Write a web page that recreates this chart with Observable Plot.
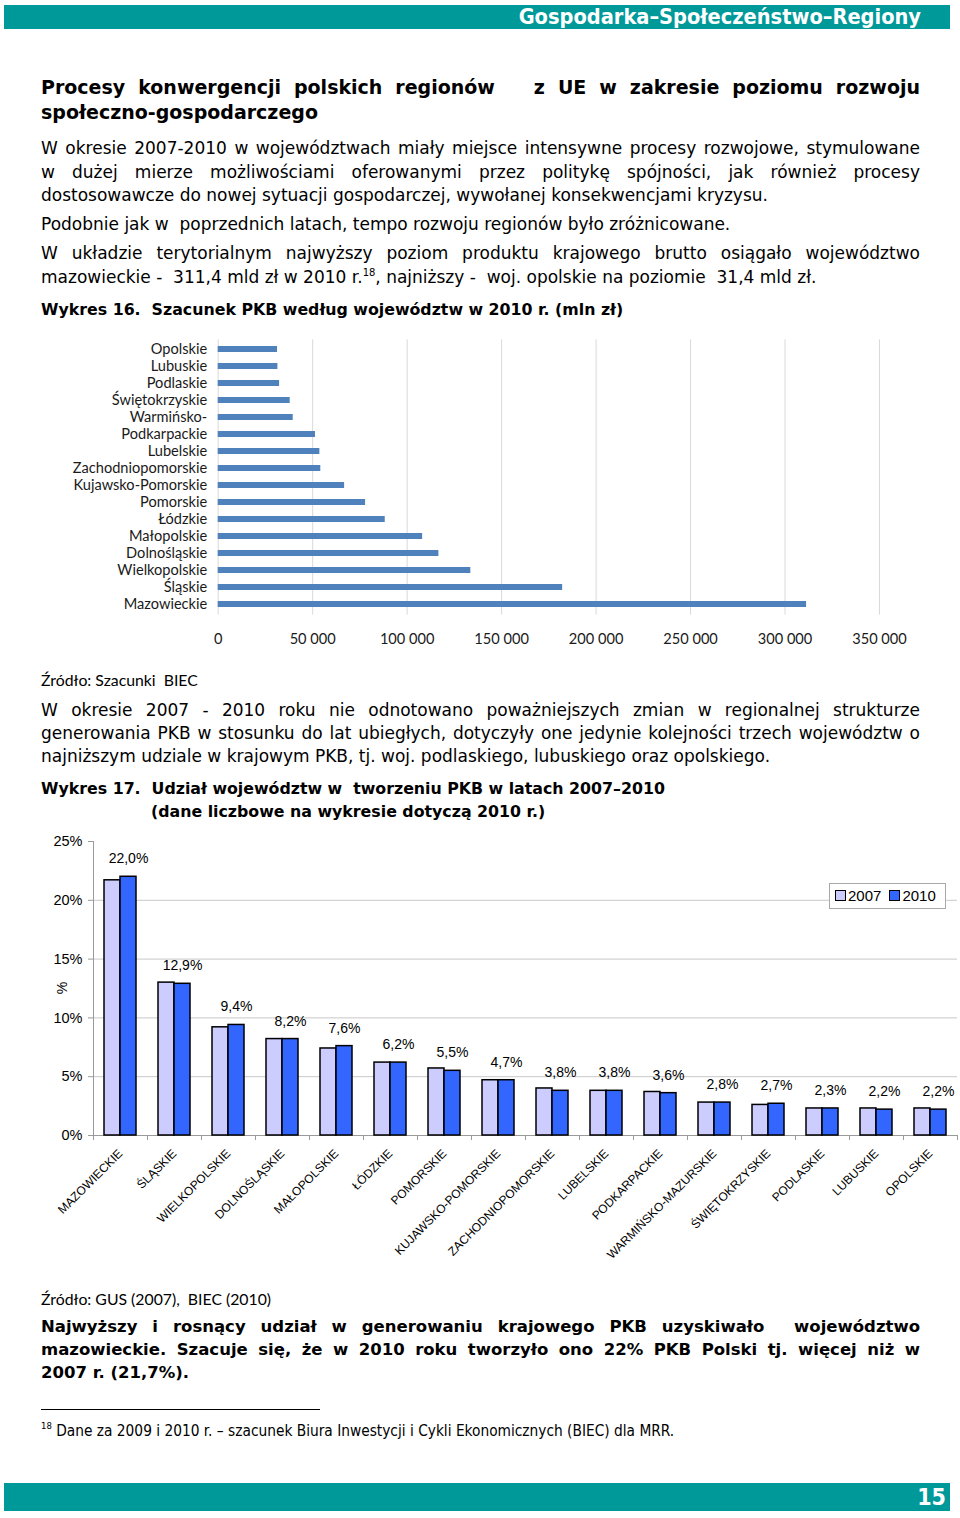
<!DOCTYPE html>
<html><head><meta charset="utf-8">
<script src="https://cdn.jsdelivr.net/npm/d3@7"></script>
<script src="https://cdn.jsdelivr.net/npm/@observablehq/plot@0.6"></script>
<style>
html,body{margin:0;padding:0;background:#fff;}
#page{position:relative;width:960px;height:1518px;overflow:hidden;font-family:"DejaVu Sans",sans-serif;color:#000;}
.ln{position:absolute;left:41px;width:879px;white-space:nowrap;font-size:17px;line-height:22px;height:22px;}
.j{text-align:justify;text-align-last:justify;white-space:normal;}
.b{font-weight:bold;font-size:16.5px;}
.w{font-weight:bold;font-size:15.8px;}
.t{font-weight:bold;font-size:19px;line-height:24px;height:24px;}
.src{font-family:Lato,sans-serif;font-size:15.8px;}
.band{position:absolute;left:4px;width:946px;background:#00999a;color:#fff;font-family:"DejaVu Sans Condensed","DejaVu Sans",sans-serif;font-weight:bold;text-align:right;box-sizing:border-box;}
sup{font-size:10px;line-height:0;vertical-align:7px;}
.abs{position:absolute;left:0;}
#legend{position:absolute;left:829px;top:883px;width:117px;height:26px;box-sizing:border-box;border:1px solid #a8a8a8;background:#fff;font-family:"Liberation Sans",Arial,sans-serif;font-size:15px;line-height:24px;white-space:nowrap;}
#legend .sw{display:inline-block;width:9px;height:9px;border:1.5px solid #000;margin:0 2px 0 5px;vertical-align:-0px;}
</style></head>
<body><div id="page">
<div class="band" style="top:5px;height:24px;font-size:21.6px;line-height:24px;padding-right:29px;">Gospodarka–Społeczeństwo–Regiony</div>

<div class="ln t j" style="top:75px;">Procesy konwergencji polskich regionów &nbsp; z UE w zakresie poziomu rozwoju</div>
<div class="ln t" style="top:100px;">społeczno-gospodarczego</div>

<div class="ln j" style="top:137px;">W okresie 2007-2010 w województwach miały miejsce intensywne procesy rozwojowe, stymulowane</div>
<div class="ln j" style="top:161px;">w dużej mierze możliwościami oferowanymi przez politykę spójności, jak również procesy</div>
<div class="ln" style="top:184px;">dostosowawcze do nowej sytuacji gospodarczej, wywołanej konsekwencjami kryzysu.</div>
<div class="ln" style="top:213px;">Podobnie jak w &nbsp;poprzednich latach, tempo rozwoju regionów było zróżnicowane.</div>
<div class="ln j" style="top:242px;">W układzie terytorialnym najwyższy poziom produktu krajowego brutto osiągało województwo</div>
<div class="ln" style="top:266px;">mazowieckie - &nbsp;311,4 mld zł w 2010 r.<sup>18</sup>, najniższy - &nbsp;woj. opolskie na poziomie &nbsp;31,4 mld zł.</div>
<div class="ln w" style="top:299px;">Wykres 16. &nbsp;Szacunek PKB według województw w 2010 r. (mln zł)</div>

<div id="chart1" class="abs" style="top:335px;"></div>

<div class="ln src" style="top:669px;">Źródło: Szacunki &nbsp;BIEC</div>
<div class="ln j" style="top:699px;">W okresie 2007 - 2010 roku nie odnotowano poważniejszych zmian w regionalnej strukturze</div>
<div class="ln j" style="top:722px;">generowania PKB w stosunku do lat ubiegłych, dotyczyły one jedynie kolejności trzech województw o</div>
<div class="ln" style="top:745px;">najniższym udziale w krajowym PKB, tj. woj. podlaskiego, lubuskiego oraz opolskiego.</div>
<div class="ln w" style="top:778px;">Wykres 17. &nbsp;Udział województw w &nbsp;tworzeniu PKB w latach 2007–2010</div>
<div class="ln w" style="top:801px;left:151px;width:700px;">(dane liczbowe na wykresie dotyczą 2010 r.)</div>

<div id="chart2grid" class="abs" style="top:830px;"></div>
<div id="chart2" class="abs" style="top:830px;"></div>
<div style="position:absolute;left:52px;top:978px;width:20px;height:20px;line-height:20px;text-align:center;transform:rotate(-90deg);font-family:'Liberation Sans',Arial,sans-serif;font-size:14px;">%</div>
<div id="legend"><span class="sw" style="background:#ccccff"></span>2007<span class="sw" style="background:#3366ff;margin-left:8px"></span>2010</div>

<div class="ln src" style="top:1288px;">Źródło: GUS (2007), &nbsp;BIEC (2010)</div>
<div class="ln b j" style="top:1316px;">Najwyższy i rosnący udział w generowaniu krajowego PKB uzyskiwało &nbsp;województwo</div>
<div class="ln b j" style="top:1339px;">mazowieckie. Szacuje się, że w 2010 roku tworzyło ono 22% PKB Polski tj. więcej niż w</div>
<div class="ln b" style="top:1362px;">2007 r. (21,7%).</div>

<div style="position:absolute;left:41px;top:1409px;width:279px;height:1px;background:#000;"></div>
<div class="ln" style="top:1420px;font-family:'DejaVu Sans Condensed','DejaVu Sans',sans-serif;font-size:15.3px;"><sup style="font-size:9.5px">18</sup> Dane za 2009 i 2010 r. – szacunek Biura Inwestycji i Cykli Ekonomicznych (BIEC) dla MRR.</div>

<div class="band" style="top:1483px;height:28px;font-size:23px;line-height:28px;padding-right:4px;">15</div>
</div>
<script>
// ---- Wykres 16 data ----
const regions1 = ["Opolskie","Lubuskie","Podlaskie","Świętokrzyskie","Warmińsko-","Podkarpackie","Lubelskie","Zachodniopomorskie","Kujawsko-Pomorskie","Pomorskie","Łódzkie","Małopolskie","Dolnośląskie","Wielkopolskie","Śląskie","Mazowieckie"];
const gdp2010 = [31400, 31600, 32500, 38100, 39700, 51500, 53800, 54300, 66900, 78000, 88400, 108200, 116800, 133700, 182300, 311400];
const gdpTicks = [0, 50000, 100000, 150000, 200000, 250000, 300000, 350000];

// ---- Wykres 17 data ----
const regions2 = ["MAZOWIECKIE","ŚLĄSKIE","WIELKOPOLSKIE","DOLNOŚLĄSKIE","MAŁOPOLSKIE","ŁÓDZKIE","POMORSKIE","KUJAWSKO-POMORSKIE","ZACHODNIOPOMORSKIE","LUBELSKIE","PODKARPACKIE","WARMIŃSKO-MAZURSKIE","ŚWIĘTOKRZYSKIE","PODLASKIE","LUBUSKIE","OPOLSKIE"];
const share2007 = [21.7, 13.0, 9.2, 8.2, 7.4, 6.2, 5.7, 4.7, 4.0, 3.8, 3.7, 2.8, 2.6, 2.3, 2.3, 2.3];
const share2010 = [22.0, 12.9, 9.4, 8.2, 7.6, 6.2, 5.5, 4.7, 3.8, 3.8, 3.6, 2.8, 2.7, 2.3, 2.2, 2.2];
const years = ["2007", "2010"];
const yearColors = ["#ccccff", "#3366ff"];
const shareTicks = [0, 5, 10, 15, 20, 25];
const shareGrid = [5, 10, 15, 20];

// ---- chart 1 ----
const data1 = regions1.map((r, i) => ({region: r, value: gdp2010[i]}));
const chart1 = Plot.plot({
  width: 960, height: 320,
  marginLeft: 217.7, marginRight: 81, marginTop: 4.4, marginBottom: 40.4,
  style: {fontFamily: "Lato, sans-serif", fontSize: "14.6px", color: "#1a1a1a", background: "transparent"},
  x: {domain: [0, 350000], ticks: gdpTicks, tickFormat: d => d3.format(",")(d).replace(/,/g, " "), tickSize: 0, tickPadding: 19, label: null},
  y: {domain: regions1, paddingInner: 0.62, paddingOuter: 0.31, tickSize: 0, tickPadding: 11, label: null},
  marks: [
    Plot.ruleX(gdpTicks, {stroke: "#d9d9d9", strokeWidth: 1}),
    Plot.barX(data1, {x: "value", y: "region", fill: "#4f81bd"})
  ]
});
document.getElementById("chart1").appendChild(chart1);

// ---- chart 2 ----
const rows2 = regions2.flatMap((r, i) => [
  {region: r, year: years[0], v: share2007[i]},
  {region: r, year: years[1], v: share2010[i]}
]);
const labels2 = regions2.map((r, i) => ({region: r, year: years[1], v: share2010[i]}));
const fmtPct = v => v.toFixed(1).replace(".", ",") + "%";

const common2 = {width: 960, height: 440, marginLeft: 93, marginRight: 3, marginTop: 11, marginBottom: 135};

const chart2grid = Plot.plot({
  ...common2,
  style: {fontFamily: "'Liberation Sans', Arial, sans-serif", fontSize: "14.5px", color: "#000", background: "transparent"},
  x: {domain: [0, regions2.length], ticks: d3.range(regions2.length + 1), tickFormat: () => "", tickSize: 5, label: null},
  y: {domain: [0, 25], ticks: shareTicks, tickFormat: d => d + "%", tickSize: 5, tickPadding: 6, label: null},
  marks: [
    Plot.ruleY(shareGrid, {stroke: "#c8c8c8"}),
    Plot.ruleY([0], {stroke: "#9a9a9a"}),
    Plot.ruleX([0], {stroke: "#9a9a9a"})
  ]
});
chart2grid.querySelectorAll('[aria-label^="x-axis"] line, [aria-label^="x-axis"] path, [aria-label^="y-axis"] line, [aria-label^="y-axis"] path')
  .forEach(el => el.setAttribute("stroke", "#9a9a9a"));
document.getElementById("chart2grid").appendChild(chart2grid);

const chart2 = Plot.plot({
  ...common2,
  style: {fontFamily: "'Liberation Sans', Arial, sans-serif", fontSize: "12px", color: "#000", background: "transparent"},
  fx: {domain: regions2, paddingInner: 0.4, paddingOuter: 0.2, axis: "bottom", tickRotate: -45, tickSize: 0, tickPadding: 16, label: null},
  x: {domain: years, padding: 0, axis: null},
  y: {domain: [0, 25], axis: null},
  color: {domain: years, range: yearColors},
  marks: [
    Plot.barY(rows2, {fx: "region", x: "year", y: "v", fill: "year", stroke: "#000", strokeWidth: 1.5}),
    Plot.text(labels2, {fx: "region", x: "year", y: "v", text: d => fmtPct(d.v), dy: -18, fontSize: 14, fill: "#000"})
  ]
});
document.getElementById("chart2").appendChild(chart2);
</script>
</body></html>
